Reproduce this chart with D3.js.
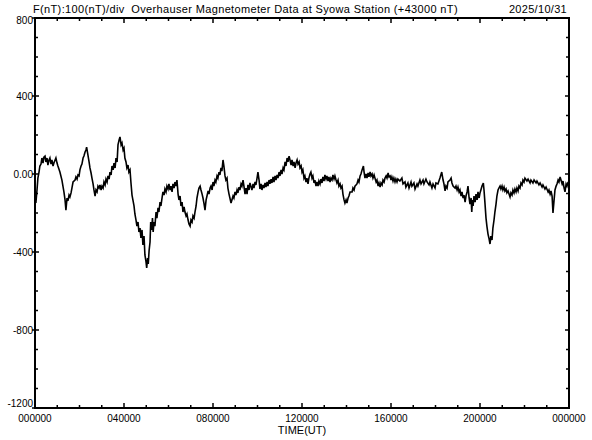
<!DOCTYPE html>
<html>
<head>
<meta charset="utf-8">
<script src="https://cdn.jsdelivr.net/npm/d3@7"></script>
<style>
  html, body { margin: 0; padding: 0; background: #fff; }
  svg { display: block; }
  text { font-family: "Liberation Sans", Arial, sans-serif; fill: #000; white-space: pre; }
</style>
</head>
<body>
<svg id="chart" width="592" height="440"></svg>
<script>
// ---- data (time in hours UT, F in nT relative to 43000 nT) ----
const timeHours = [
0.00,0.04,0.09,0.13,0.18,0.22,0.27,0.31,0.36,0.40,0.45,0.49,0.54,0.58,0.63,0.67,0.72,0.76,0.81,0.85,0.94,0.99,1.03,1.12,1.21,1.30,1.35,1.39,1.44,1.48,1.53,1.57,1.62,1.66,1.71,
1.80,1.84,1.89,1.93,1.98,2.02,2.07,2.11,2.16,2.20,2.25,2.29,2.32,2.38,2.43,2.47,2.52,2.56,2.61,2.65,2.70,2.74,2.79,2.83,2.88,2.92,2.97,3.01,3.06,3.10,3.15,3.19,3.24,3.28,3.33,3.37,3.42,3.46,3.51,3.55,3.60,3.64,3.69,3.73,3.78,3.82,3.87,3.91,3.96,4.00,
4.04,4.09,4.13,4.18,4.22,4.27,4.31,4.36,4.40,4.45,4.49,4.54,4.58,4.63,4.67,4.72,4.76,4.81,4.85,4.90,4.94,4.99,5.02,5.06,5.09,5.13,5.17,5.20,5.24,5.28,5.31,5.35,5.39,5.44,5.48,5.53,5.57,5.62,5.66,5.71,5.75,5.80,5.84,5.89,5.93,5.98,
6.02,6.07,6.11,6.16,6.20,6.25,6.29,6.34,6.38,6.43,6.47,6.52,6.56,6.61,6.65,6.70,6.74,6.79,6.83,6.88,6.92,6.97,7.01,7.06,7.10,7.15,7.19,7.24,7.28,7.33,7.37,7.42,7.46,7.51,7.55,7.60,7.64,7.69,7.73,7.78,7.82,7.87,7.91,7.96,
8.00,8.04,8.09,8.13,8.18,8.22,8.27,8.31,8.36,8.40,8.45,8.49,8.54,8.58,8.63,8.67,8.72,8.76,8.81,8.85,8.90,8.94,8.99,9.03,9.08,9.12,9.17,9.21,9.26,9.30,9.35,9.39,9.44,9.48,9.53,9.57,9.62,9.66,9.75,9.80,9.84,9.89,9.93,9.98,
10.02,10.07,10.11,10.16,10.20,10.25,10.29,10.34,10.38,10.43,10.47,10.52,10.56,10.61,10.65,10.70,10.74,10.79,10.83,10.88,10.92,10.97,11.01,11.06,11.10,11.15,11.19,11.24,11.28,11.33,11.37,11.42,11.46,11.51,11.55,11.60,11.64,11.69,11.73,11.78,11.82,11.87,11.91,11.96,
12.00,12.04,12.09,12.13,12.18,12.22,12.27,12.31,12.36,12.40,12.45,12.49,12.54,12.58,12.63,12.67,12.72,12.76,12.81,12.85,12.90,12.94,12.99,13.03,13.08,13.12,13.17,13.21,13.26,13.30,13.35,13.39,13.44,13.48,13.53,13.57,13.62,13.66,13.71,13.75,13.80,13.84,13.89,13.93,13.98,
14.02,14.07,14.11,14.16,14.25,14.29,14.34,14.38,14.47,14.52,14.56,14.61,14.65,14.70,14.76,14.79,14.83,14.88,14.92,14.97,15.01,15.06,15.10,15.15,15.19,15.24,15.28,15.33,15.37,15.42,15.46,15.51,15.55,15.60,15.64,15.69,15.73,15.78,15.82,15.87,15.91,15.96,
16.00,16.04,16.09,16.13,16.18,16.22,16.27,16.31,16.40,16.49,16.54,16.63,16.67,16.76,16.81,16.90,16.94,17.03,17.08,17.17,17.21,17.30,17.35,17.44,17.48,17.57,17.62,17.71,17.75,17.84,17.89,17.98,
18.02,18.11,18.20,18.28,18.34,18.38,18.43,18.47,18.52,18.56,18.65,18.70,18.74,18.79,18.88,18.92,18.97,19.01,19.06,19.10,19.15,19.19,19.24,19.28,19.33,19.37,19.42,19.46,19.51,19.55,19.60,19.63,19.66,19.69,19.73,19.78,19.82,19.87,19.91,19.96,
20.00,20.04,20.09,20.15,20.18,20.22,20.27,20.31,20.36,20.40,20.45,20.49,20.54,20.58,20.63,20.67,20.72,20.76,20.81,20.85,20.90,20.94,20.99,21.03,21.08,21.12,21.17,21.21,21.26,21.35,21.39,21.44,21.48,21.53,21.57,21.62,21.66,21.71,21.75,21.80,21.84,21.89,21.93,21.98,
22.02,22.11,22.16,22.25,22.29,22.38,22.43,22.52,22.56,22.65,22.70,22.79,22.83,22.92,22.97,23.06,23.10,23.15,23.19,23.24,23.28,23.33,23.37,23.42,23.46,23.51,23.55,23.60,23.64,23.69,23.73,23.78,23.82,23.87,23.91,23.96,24.00];
const fValues = [
-108,-149,-82,-21,10,41,51,82,56,87,92,62,82,46,72,82,51,72,41,56,82,56,41,10,-31,-92,-133,-185,-123,-138,-108,-118,-97,-72,-41,
-31,-15,-26,-5,-10,21,41,51,82,92,113,123,138,97,62,31,5,-21,-51,-82,-113,-82,-92,-62,-72,-56,-82,-62,-72,-41,-56,-26,-41,-10,-26,10,-5,41,21,56,31,82,62,149,174,190,149,159,123,133,
82,62,31,46,10,21,-41,-108,-133,-164,-205,-236,-267,-246,-297,-277,-328,-287,-364,-318,-415,-451,-482,-431,-461,-390,-349,-246,-287,-226,-297,-246,-267,-195,-226,-174,-195,-144,-164,-123,-92,-108,-77,-92,-62,-77,
-51,-82,-62,-92,-51,-72,-41,-62,-31,-103,-133,-113,-164,-144,-195,-169,-195,-215,-205,-236,-256,-267,-236,-246,-215,-226,-195,-164,-123,-92,-72,-62,-82,-103,-123,-154,-185,-133,-113,-87,-103,-72,-62,-82,
-41,-62,-31,-41,-10,-21,10,-5,31,15,72,41,-10,-31,-21,-72,-103,-123,-149,-133,-113,-123,-92,-108,-82,-97,-67,-82,-51,-62,-31,-62,-103,-72,-103,-56,-82,-46,-82,-51,-72,-41,-56,-21,
10,-31,-77,-51,-82,-56,-72,-46,-67,-41,-62,-31,-51,-26,-46,-15,-41,-10,-31,-5,-21,10,-10,21,0,31,21,62,41,82,62,92,72,46,72,41,62,31,56,72,51,62,31,41,
10,21,-21,-10,-41,-21,-51,-21,0,10,-21,-10,-46,-31,-62,-41,-62,-36,-51,-26,-46,-15,-36,-5,-26,-10,-36,-15,-41,-21,-31,-5,-26,-10,-31,-46,-31,-62,-51,-72,-62,-103,-133,-149,-133,
-149,-123,-113,-92,-92,-72,-82,-62,-51,-31,-41,-10,0,21,41,10,-21,0,-21,5,-15,10,-10,0,-21,-5,-21,-41,-31,-62,-46,-67,-46,-56,-31,-41,-21,-10,-21,5,-15,-10,
-31,-15,-36,-21,-41,-26,-41,-26,-36,-21,-51,-41,-67,-46,-72,-41,-62,-46,-77,-51,-62,-31,-51,-31,-51,-26,-41,-56,-41,-72,-51,-72,
-46,-51,-21,10,-31,-51,-87,-62,-72,-41,-31,-21,-46,-62,-72,-62,-82,-67,-92,-82,-113,-92,-123,-108,-144,-113,-92,-62,-123,-154,-123,-195,-133,-164,-113,-144,-103,-133,-92,-123,
-97,-82,-62,-46,-82,-144,-226,-267,-308,-328,-359,-318,-338,-277,-236,-195,-154,-113,-82,-72,-62,-77,-62,-82,-67,-87,-77,-97,-87,-118,-97,-108,-82,-97,-77,-92,-72,-87,-62,-72,-46,-56,-31,-41,
-21,-36,-26,-46,-31,-46,-31,-46,-36,-56,-46,-67,-56,-77,-67,-92,-82,-103,-87,-113,-200,-133,-82,-62,-51,-31,-41,-15,-31,-51,-36,-72,-92,-51,-62,-41,-62];

const xTickHours = [0, 4, 8, 12, 16, 20, 24];
const xTickLabels = ["000000", "040000", "080000", "120000", "160000", "200000", "000000"];
const yTickValues = [800, 400, 0, -400, -800, -1200];
const yTickLabels = ["800", "400", "0.00", "-400", "-800", "-1200"];

const titleText = "F(nT):100(nT)/div  Overhauser Magnetometer Data at Syowa Station (+43000 nT)";
const dateText = "2025/10/31";
const xAxisTitle = "TIME(UT)";

// ---- layout ----
const L = 35, R = 569, T = 18, B = 408;
const svg = d3.select("#chart");
const x = d3.scaleLinear().domain([0, 24]).range([L, R]);
const y = d3.scaleLinear().domain([-1200, 800]).range([B, T]);

// data line
const n = Math.min(timeHours.length, fValues.length);
const pts = d3.range(n).map(i => [timeHours[i], fValues[i]]);
const line = d3.line().x(d => x(d[0])).y(d => y(d[1]));
svg.append("path")
  .datum(pts)
  .attr("d", line)
  .attr("fill", "none")
  .attr("stroke", "#000")
  .attr("stroke-width", 1.6)
  .attr("stroke-linejoin", "miter");

// frame
svg.append("rect")
  .attr("x", L).attr("y", T)
  .attr("width", R - L).attr("height", B - T)
  .attr("fill", "none").attr("stroke", "#000").attr("stroke-width", 2);

// ticks
const hours = d3.range(0, 25, 1);
const yMinor = d3.range(-1200, 801, 100);
const tk = svg.append("g").attr("stroke", "#000").attr("stroke-width", 1.5);
hours.forEach(h => {
  const major = h % 4 === 0;
  const len = major ? 5 : 3;
  tk.append("line").attr("x1", x(h)).attr("x2", x(h)).attr("y1", B).attr("y2", B - len);
  tk.append("line").attr("x1", x(h)).attr("x2", x(h)).attr("y1", T).attr("y2", T + len);
});
yMinor.forEach(v => {
  const major = v % 400 === 0;
  tk.append("line").attr("x1", major ? L - 3 : L).attr("x2", L + (major ? 4 : 3)).attr("y1", y(v)).attr("y2", y(v));
  tk.append("line").attr("x1", R).attr("x2", R - (major ? 4 : 3)).attr("y1", y(v)).attr("y2", y(v));
});

// y labels
svg.append("g").selectAll("text").data(yTickValues).join("text")
  .attr("x", L - 2)
  .attr("y", d => y(d) + (d === -1200 ? -1 : (d === 800 ? 6 : 4)))
  .attr("text-anchor", "end")
  .attr("font-size", 10)
  .text((d, i) => yTickLabels[i]);

// x labels
svg.append("g").selectAll("text").data(xTickHours).join("text")
  .attr("x", d => x(d))
  .attr("y", 422)
  .attr("text-anchor", "middle")
  .attr("font-size", 10)
  .text((d, i) => xTickLabels[i]);

// titles
svg.append("text").attr("x", 33).attr("y", 13).attr("font-size", 11)
  .attr("letter-spacing", 0.35).text(titleText);
svg.append("text").attr("x", 567).attr("y", 13).attr("text-anchor", "end").attr("font-size", 11)
  .attr("letter-spacing", 0.3).text(dateText);
svg.append("text").attr("x", x(12)).attr("y", 434).attr("text-anchor", "middle").attr("font-size", 11).text(xAxisTitle);
</script>
</body>
</html>
